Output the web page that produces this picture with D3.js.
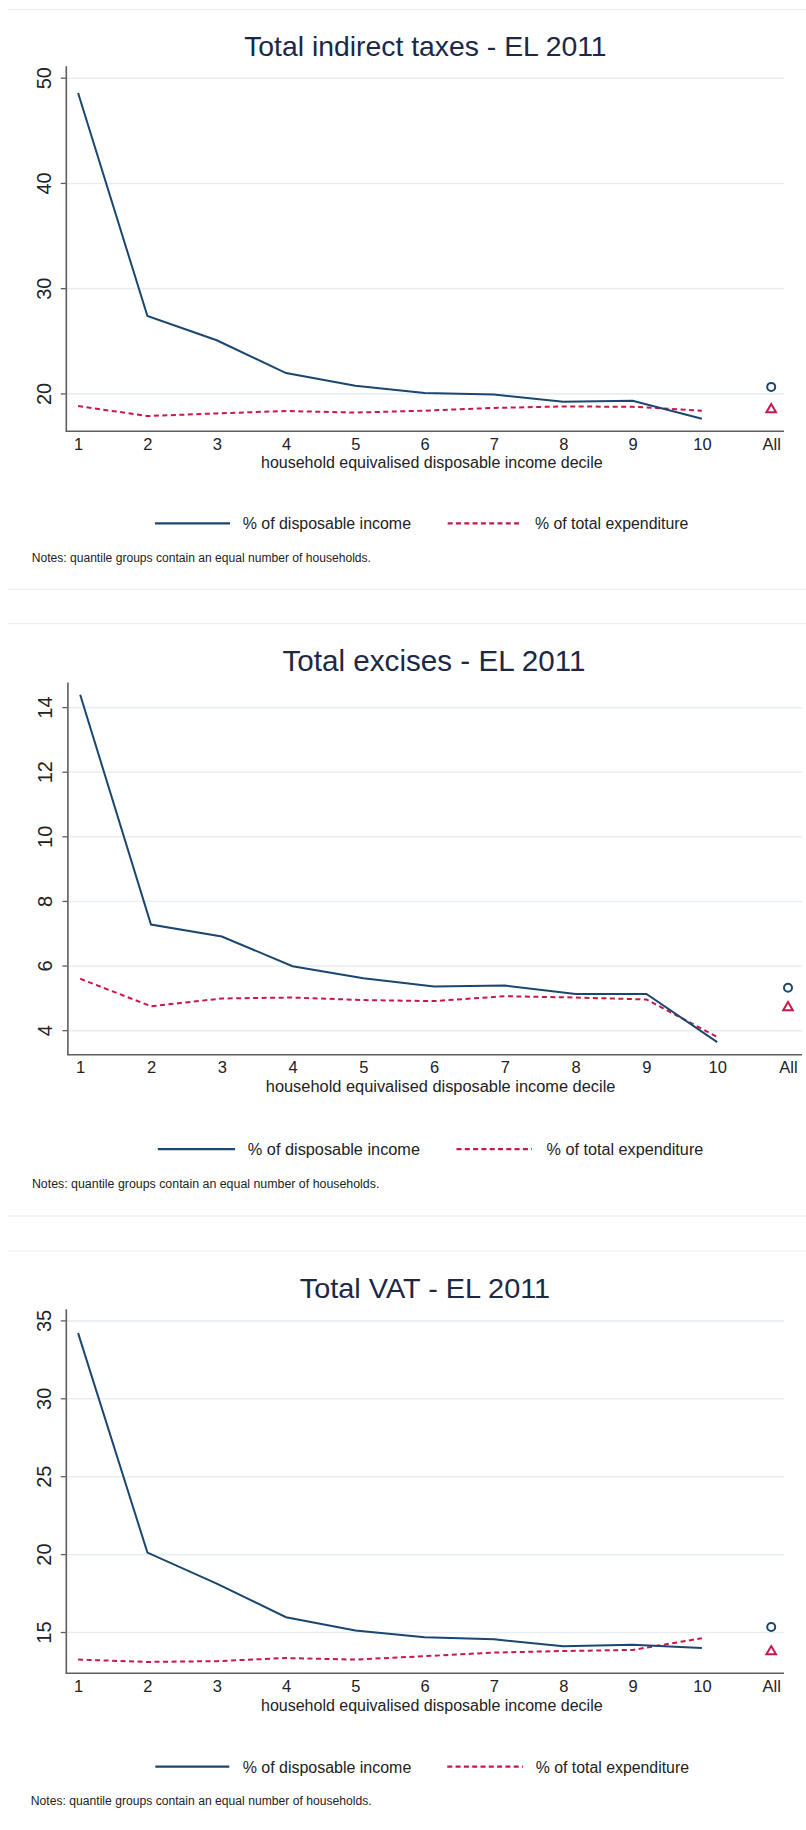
<!DOCTYPE html>
<html>
<head>
<meta charset="utf-8">
<script src="https://cdn.jsdelivr.net/npm/d3@7"></script>
<style>
  html, body { margin: 0; padding: 0; background: #ffffff; }
  svg { display: block; }
  text { font-family: "Liberation Sans", Arial, sans-serif; }
</style>
</head>
<body>
<script>
// Income deciles plus the overall ("All") group
const deciles = ["1", "2", "3", "4", "5", "6", "7", "8", "9", "10"];
const allLabel = "All";
const xCategories = deciles.concat([allLabel]);

// Total indirect taxes, % of disposable income / % of total expenditure
const indirectIncome = [48.55, 27.35, 25.05, 21.93, 20.73, 20.04, 19.89, 19.2, 19.31, 17.6];
const indirectIncomeAll = 20.62;
const indirectExpend = [18.8, 17.85, 18.1, 18.33, 18.18, 18.36, 18.62, 18.76, 18.73, 18.36];
const indirectExpendAll = 18.55;
const indirectTicks = [20, 30, 40, 50];

// Total excises
const excisesIncome = [14.38, 7.27, 6.9, 5.98, 5.61, 5.35, 5.38, 5.12, 5.12, 3.63];
const excisesIncomeAll = 5.31;
const excisesExpend = [5.59, 4.74, 4.98, 5.01, 4.93, 4.9, 5.05, 5.01, 4.95, 3.79];
const excisesExpendAll = 4.73;
const excisesTicks = [4, 6, 8, 10, 12, 14];

// Total VAT
const vatIncome = [34.18, 20.1, 18.1, 15.95, 15.1, 14.67, 14.53, 14.08, 14.18, 13.98];
const vatIncomeAll = 15.32;
const vatExpend = [13.23, 13.08, 13.13, 13.33, 13.23, 13.45, 13.68, 13.78, 13.85, 14.6];
const vatExpendAll = 13.8;
const vatTicks = [15, 20, 25, 30, 35];

const titles = ["Total indirect taxes - EL 2011", "Total excises - EL 2011", "Total VAT - EL 2011"];
const xAxisTitle = "household equivalised disposable income decile";
const legendLabels = ["% of disposable income", "% of total expenditure"];
const noteText = "Notes: quantile groups contain an equal number of households.";

const panels = [
  { income: indirectIncome, incomeAll: indirectIncomeAll, expend: indirectExpend, expendAll: indirectExpendAll,
    ticks: indirectTicks, domain: [16.4, 51.13] },
  { income: excisesIncome, incomeAll: excisesIncomeAll, expend: excisesExpend, expendAll: excisesExpendAll,
    ticks: excisesTicks, domain: [3.24, 14.78] },
  { income: vatIncome, incomeAll: vatIncomeAll, expend: vatExpend, expendAll: vatExpendAll,
    ticks: vatTicks, domain: [12.35, 35.75] }
];

// Page geometry of each stacked graph
const layout = [
  { top: 65.8, bottom: 431.3, left: 65.8, right: 784, x0: 78.1, x1: 771.2,
    titleX: 425.4, titleY: 55.5, titleW: 362.5, titleSize: 28,
    sepTop: 9.6, sepBottom: 589.4,
    xtX: 431.8, xtY: 467.7, xtW: 341.6,
    legY: 523.4, legLine1: [155, 230], leg1X: 242.7, leg1W: 168.3, legLine2: [447.7, 521.7], leg2X: 535, leg2W: 153.3, legTextY: 529.3,
    noteX: 31.7, noteW: 339.3, noteY: 562 },
  { top: 681.9, bottom: 1054.7, left: 67.4, right: 802, x0: 80.2, x1: 788,
    titleX: 434, titleY: 671, titleW: 303, titleSize: 28.7,
    sepTop: 623.7, sepBottom: 1216,
    xtX: 440.6, xtY: 1092.3, xtW: 349.6,
    legY: 1149.2, legLine1: [157.8, 235], leg1X: 247.8, leg1W: 172.2, legLine2: [456.5, 532], leg2X: 546.5, leg2W: 156.8, legTextY: 1154.8,
    noteX: 31.9, noteW: 347.5, noteY: 1188.4 },
  { top: 1308.7, bottom: 1673.3, left: 65.8, right: 784, x0: 78.1, x1: 771.2,
    titleX: 425, titleY: 1297.8, titleW: 250.4, titleSize: 28,
    sepTop: 1251, sepBottom: null,
    xtX: 431.8, xtY: 1711, xtW: 341.6,
    legY: 1766.7, legLine1: [155.3, 229.3], leg1X: 242.7, leg1W: 168.6, legLine2: [447.3, 522.9], leg2X: 535.7, leg2W: 153.3, legTextY: 1772.5,
    noteX: 30.8, noteW: 340.9, noteY: 1804.8 }
];

const W = 806, H = 1830;
const navy = "#1a476f";
const red = "#c8174a";
const gridColor = "#e9eef2";
const axisColor = "#5e5e5e";
const textColor = "#222222";
const titleColor = "#1c2846";

const svg = d3.select("body").append("svg")
  .attr("width", W).attr("height", H)
  .attr("viewBox", `0 0 ${W} ${H}`);

svg.append("rect").attr("width", W).attr("height", H).attr("fill", "#ffffff");

panels.forEach((p, i) => {
  const L = layout[i];
  const g = svg.append("g");

  // thin frame lines around each graph
  [L.sepTop, L.sepBottom].forEach(yy => {
    if (yy == null) return;
    g.append("line").attr("x1", 8).attr("x2", W).attr("y1", yy).attr("y2", yy)
      .attr("stroke", "#eeeeee").attr("stroke-width", 1.2);
  });

  const x = d3.scalePoint().domain(xCategories).range([L.x0, L.x1]);
  const y = d3.scaleLinear().domain(p.domain).range([L.bottom, L.top]);

  // horizontal grid lines
  g.append("g")
    .attr("transform", `translate(${L.left},0)`)
    .call(d3.axisLeft(y).tickValues(p.ticks).tickSize(-(L.right - L.left)).tickFormat(""))
    .call(a => a.select(".domain").remove())
    .call(a => a.selectAll(".tick line").attr("stroke", gridColor).attr("stroke-width", 1.6));

  // y axis
  const ya = g.append("g")
    .attr("transform", `translate(${L.left},0)`)
    .call(d3.axisLeft(y).tickValues(p.ticks).tickSize(5).tickSizeOuter(0).tickFormat(d3.format("d")));
  ya.select(".domain").attr("stroke", axisColor).attr("stroke-width", 1.6);
  ya.selectAll(".tick line").attr("stroke", axisColor).attr("stroke-width", 1.3);
  ya.selectAll(".tick text")
    .attr("x", 0).attr("y", 0).attr("dy", "0.35em")
    .attr("transform", "translate(-22,0) rotate(-90)")
    .attr("text-anchor", "middle")
    .attr("font-size", 20)
    .attr("fill", textColor);

  // x axis
  const xa = g.append("g")
    .attr("transform", `translate(0,${L.bottom})`)
    .call(d3.axisBottom(x).tickSize(0));
  xa.select(".domain").remove();
  xa.append("line").attr("x1", L.left).attr("x2", L.right).attr("y1", 0).attr("y2", 0)
    .attr("stroke", axisColor).attr("stroke-width", 1.6);
  xa.selectAll(".tick text")
    .attr("y", 18.7).attr("dy", 0)
    .attr("font-size", 16.5)
    .attr("fill", textColor);

  // series lines
  const line = d3.line().x((d, k) => x(deciles[k])).y(d => y(d));
  g.append("path").datum(p.expend)
    .attr("d", line).attr("fill", "none")
    .attr("stroke", red).attr("stroke-width", 2).attr("stroke-dasharray", "5,3.5");
  g.append("path").datum(p.income)
    .attr("d", line).attr("fill", "none")
    .attr("stroke", navy).attr("stroke-width", 2);

  // overall markers
  g.append("circle")
    .attr("cx", x(allLabel)).attr("cy", y(p.incomeAll)).attr("r", 4)
    .attr("fill", "none").attr("stroke", navy).attr("stroke-width", 2);
  g.append("path")
    .attr("transform", `translate(${x(allLabel)},${y(p.expendAll)})`)
    .attr("d", "M0,-4.6 L4.8,3.6 L-4.8,3.6 Z")
    .attr("fill", "none").attr("stroke", red).attr("stroke-width", 2).attr("stroke-linejoin", "miter");

  // title
  g.append("text")
    .attr("x", L.titleX).attr("y", L.titleY)
    .attr("text-anchor", "middle")
    .attr("font-size", L.titleSize)
    .attr("fill", titleColor)
    .attr("textLength", L.titleW).attr("lengthAdjust", "spacingAndGlyphs")
    .text(titles[i]);

  // x axis title
  g.append("text")
    .attr("x", L.xtX).attr("y", L.xtY)
    .attr("text-anchor", "middle")
    .attr("font-size", 16)
    .attr("fill", textColor)
    .attr("textLength", L.xtW).attr("lengthAdjust", "spacingAndGlyphs")
    .text(xAxisTitle);

  // legend
  g.append("line")
    .attr("x1", L.legLine1[0]).attr("x2", L.legLine1[1]).attr("y1", L.legY).attr("y2", L.legY)
    .attr("stroke", navy).attr("stroke-width", 2.2);
  g.append("text")
    .attr("x", L.leg1X).attr("y", L.legTextY)
    .attr("font-size", 16).attr("fill", textColor)
    .attr("textLength", L.leg1W).attr("lengthAdjust", "spacingAndGlyphs")
    .text(legendLabels[0]);
  g.append("line")
    .attr("x1", L.legLine2[0]).attr("x2", L.legLine2[1]).attr("y1", L.legY).attr("y2", L.legY)
    .attr("stroke", red).attr("stroke-width", 2.2).attr("stroke-dasharray", "5,3.3");
  g.append("text")
    .attr("x", L.leg2X).attr("y", L.legTextY)
    .attr("font-size", 16).attr("fill", textColor)
    .attr("textLength", L.leg2W).attr("lengthAdjust", "spacingAndGlyphs")
    .text(legendLabels[1]);

  // note
  g.append("text")
    .attr("x", L.noteX).attr("y", L.noteY)
    .attr("font-size", 12).attr("fill", textColor)
    .attr("textLength", L.noteW).attr("lengthAdjust", "spacingAndGlyphs")
    .text(noteText);
});
</script>
</body>
</html>
